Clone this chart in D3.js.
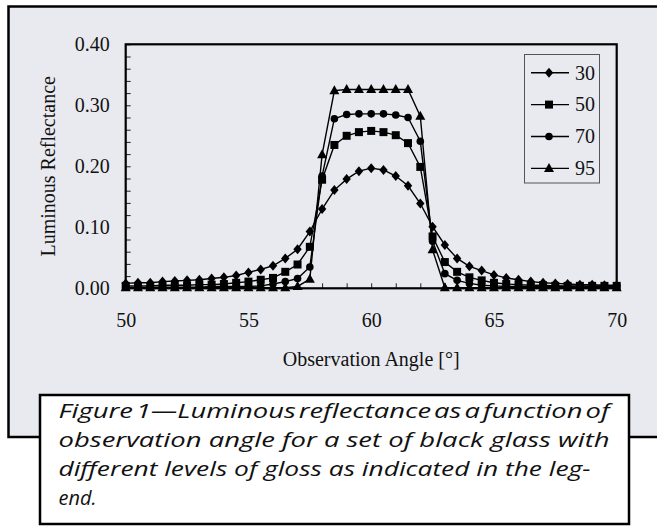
<!DOCTYPE html>
<meta charset="utf-8">
<script src="https://d3js.org/d3.v7.min.js"></script>
<style>
  body { margin: 0; background: #fff; }
</style>
<div id="chart"></div>
<script>

// observation angles, one point every half degree
var angles = [50, 50.5, 51, 51.5, 52, 52.5, 53, 53.5, 54, 54.5,
              55, 55.5, 56, 56.5, 57, 57.5, 58, 58.5, 59, 59.5,
              60, 60.5, 61, 61.5, 62, 62.5, 63, 63.5, 64, 64.5,
              65, 65.5, 66, 66.5, 67, 67.5, 68, 68.5, 69, 69.5, 70];

// luminous reflectance for each gloss level
var gloss30 = [0.008, 0.009, 0.009, 0.011, 0.012, 0.013, 0.014, 0.016, 0.018, 0.021,
               0.026, 0.031, 0.037, 0.049, 0.064, 0.093, 0.130, 0.161, 0.179, 0.192,
               0.197, 0.194, 0.184, 0.168, 0.139, 0.101, 0.071, 0.049, 0.036, 0.029,
               0.022, 0.017, 0.014, 0.011, 0.009, 0.008, 0.007, 0.006, 0.006, 0.005, 0.005];
var gloss50 = [0.004, 0.004, 0.004, 0.005, 0.005, 0.005, 0.006, 0.006, 0.007, 0.009,
               0.011, 0.014, 0.017, 0.027, 0.039, 0.068, 0.178, 0.235, 0.250, 0.256,
               0.258, 0.256, 0.251, 0.238, 0.199, 0.085, 0.043, 0.027, 0.018, 0.013,
               0.009, 0.007, 0.006, 0.005, 0.005, 0.004, 0.004, 0.004, 0.004, 0.004, 0.004];
var gloss70 = [0.002, 0.002, 0.002, 0.002, 0.002, 0.002, 0.002, 0.003, 0.003, 0.003,
               0.003, 0.004, 0.007, 0.011, 0.016, 0.035, 0.184, 0.278, 0.285, 0.286,
               0.286, 0.286, 0.284, 0.280, 0.241, 0.077, 0.024, 0.013, 0.008, 0.005,
               0.004, 0.003, 0.003, 0.003, 0.003, 0.003, 0.003, 0.003, 0.003, 0.003, 0.003];
var gloss95 = [0.001, 0.001, 0.001, 0.001, 0.001, 0.001, 0.001, 0.001, 0.001, 0.001,
               0.001, 0.001, 0.001, 0.001, 0.003, 0.015, 0.219, 0.324, 0.326, 0.326,
               0.326, 0.326, 0.326, 0.326, 0.282, 0.063, 0.001, 0.001, 0.001, 0.001,
               0.001, 0.001, 0.001, 0.001, 0.001, 0.001, 0.001, 0.001, 0.001, 0.001, 0.001];

var seriesNames = ["30", "50", "70", "95"];
var xTickValues = [50, 55, 60, 65, 70];
var yTickValues = [0, 0.1, 0.2, 0.3, 0.4];

var captionLines = [
  "Figure 1\u2014Luminous reflectance as a function of",
  "observation angle for a set of black glass with",
  "different levels of gloss as indicated in the leg-",
  "end."
];

// custom marker shapes
var diamond = { draw: function(c) { c.moveTo(0, -5); c.lineTo(4.2, 0); c.lineTo(0, 5); c.lineTo(-4.2, 0); c.closePath(); } };
var square = { draw: function(c) { c.rect(-4, -4, 8, 8); } };
var circle = { draw: function(c) { c.moveTo(3.8, 0); c.arc(0, 0, 3.8, 0, 2 * Math.PI); } };
var triangle = { draw: function(c) { c.moveTo(0, -5.5); c.lineTo(5, 3.5); c.lineTo(-5, 3.5); c.closePath(); } };

var series = [
  { name: seriesNames[0], values: gloss30, shape: diamond },
  { name: seriesNames[1], values: gloss50, shape: square },
  { name: seriesNames[2], values: gloss70, shape: circle },
  { name: seriesNames[3], values: gloss95, shape: triangle }
];

var W = 657, H = 527;
var serif = "'Liberation Serif', 'Times New Roman', serif";

var svg = d3.select("#chart").append("svg")
    .attr("width", W)
    .attr("height", H);

// grey panel behind the chart
svg.append("rect")
    .attr("x", 8.5).attr("y", 6.5)
    .attr("width", 700).attr("height", 430.5)
    .attr("fill", "#e9eaf0")
    .attr("stroke", "#000")
    .attr("stroke-width", 2.5);

var x = d3.scaleLinear().domain([50, 70]).range([125.7, 616.7]);
var y = d3.scaleLinear().domain([0, 0.4]).range([288.3, 44.3]);

// y tick labels
svg.append("g")
    .attr("transform", "translate(" + x(50) + ",0)")
    .call(d3.axisLeft(y).tickValues(yTickValues).tickFormat(d3.format(".2f")).tickSize(0).tickPadding(16))
    .call(function(g) { g.select(".domain").remove(); })
    .selectAll("text")
    .style("font-family", serif)
    .style("font-size", "20px")
    .attr("fill", "#111");

// inward y ticks
svg.append("g")
    .attr("transform", "translate(" + x(50) + ",0)")
    .call(d3.axisRight(y).ticks(20).tickSize(5).tickFormat(""))
    .call(function(g) { g.select(".domain").remove(); })
    .selectAll("line").attr("stroke", "#222").attr("stroke-width", 1);

// x tick labels
svg.append("g")
    .attr("transform", "translate(0," + y(0) + ")")
    .call(d3.axisBottom(x).tickValues(xTickValues).tickFormat(d3.format("d")).tickSize(0).tickPadding(25))
    .call(function(g) { g.select(".domain").remove(); })
    .selectAll("text")
    .style("font-family", serif)
    .style("font-size", "20px")
    .attr("fill", "#111");

// inward x ticks
svg.append("g")
    .attr("transform", "translate(0," + y(0) + ")")
    .call(d3.axisTop(x).ticks(20).tickSize(5).tickFormat(""))
    .call(function(g) { g.select(".domain").remove(); })
    .selectAll("line").attr("stroke", "#222").attr("stroke-width", 1);

// plot frame
svg.append("rect")
    .attr("x", x(50)).attr("y", y(0.4))
    .attr("width", x(70) - x(50))
    .attr("height", y(0) - y(0.4))
    .attr("fill", "none")
    .attr("stroke", "#000")
    .attr("stroke-width", 2.2);

// axis titles
svg.append("text")
    .attr("transform", "translate(55," + ((y(0) + y(0.4)) / 2) + ") rotate(-90)")
    .attr("text-anchor", "middle")
    .style("font-family", serif)
    .style("font-size", "20px")
    .attr("fill", "#111")
    .text("Luminous Reflectance");

svg.append("text")
    .attr("x", (x(50) + x(70)) / 2)
    .attr("y", 366)
    .attr("text-anchor", "middle")
    .style("font-family", serif)
    .style("font-size", "20px")
    .attr("fill", "#111")
    .text("Observation Angle [\u00b0]");

// lines and markers
var line = d3.line()
    .x(function(d, i) { return x(angles[i]); })
    .y(function(d) { return y(d); });

var sg = svg.append("g").selectAll("g")
    .data(series)
    .enter().append("g");

sg.append("path")
    .attr("d", function(s) { return line(s.values); })
    .attr("fill", "none")
    .attr("stroke", "#000")
    .attr("stroke-width", 1.4);

sg.each(function(s) {
  d3.select(this).selectAll("path.mk")
    .data(s.values)
    .enter().append("path")
      .attr("class", "mk")
      .attr("transform", function(d, i) { return "translate(" + x(angles[i]) + "," + y(d) + ")"; })
      .attr("d", d3.symbol().type(s.shape))
      .attr("fill", "#000");
});

// legend
var legend = svg.append("g");
legend.append("rect")
    .attr("x", 524.5).attr("y", 54.5)
    .attr("width", 75).attr("height", 128.5)
    .attr("fill", "#e9eaf0")
    .attr("stroke", "#555")
    .attr("stroke-width", 1);

var li = legend.selectAll("g.item")
    .data(series)
    .enter().append("g")
    .attr("class", "item")
    .attr("transform", function(d, i) { return "translate(0," + (72.7 + i * 31.9) + ")"; });

li.append("line")
    .attr("x1", 531).attr("x2", 569)
    .attr("stroke", "#000").attr("stroke-width", 1.4);
li.append("path")
    .attr("transform", "translate(549,0)")
    .attr("d", function(s) { return d3.symbol().type(s.shape)(); })
    .attr("fill", "#000");
li.append("text")
    .attr("x", 575)
    .attr("dy", "0.34em")
    .style("font-family", serif)
    .style("font-size", "20px")
    .attr("fill", "#111")
    .text(function(s) { return s.name; });

// caption box
svg.append("rect")
    .attr("x", 40).attr("y", 395)
    .attr("width", 589).attr("height", 129)
    .attr("fill", "#fff")
    .attr("stroke", "#000")
    .attr("stroke-width", 2.5);

var lineWidths = [551, 551, 532, 38];
svg.append("g").selectAll("text")
    .data(captionLines)
    .enter().append("text")
      .attr("x", 58.5)
      .attr("y", function(d, i) { return 417.5 + i * 29; })
      .attr("textLength", function(d, i) { return lineWidths[i]; })
      .attr("lengthAdjust", "spacingAndGlyphs")
      .style("font-family", "'Open Sans', sans-serif")
      .style("font-style", "italic")
      .style("font-size", "20px")
      .style("word-spacing", function(d, i) { return i === 0 ? "-3px" : "0px"; })
      .attr("fill", "#111")
      .text(function(d) { return d; });

</script>
